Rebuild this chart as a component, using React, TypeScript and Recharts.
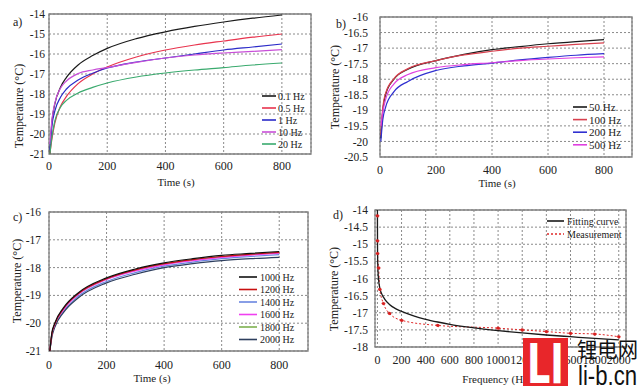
import React from 'react';
import { LineChart, Line, XAxis, YAxis, CartesianGrid, ReferenceArea } from 'recharts';

// ---------- Panel a ----------
const timeA = [3, 10, 20, 40, 60, 100, 150, 200, 300, 400, 500, 600, 700, 800];
const a_01Hz = [-21, -19.4, -18.5, -17.65, -17.17, -16.55, -16.08, -15.72, -15.23, -14.89, -14.62, -14.4, -14.21, -14.05];
const a_05Hz = [-21, -20.25, -19.45, -18.6, -18.12, -17.48, -17.0, -16.65, -16.15, -15.8, -15.55, -15.35, -15.16, -15.0];
const a_1Hz = [-20.8, -19.6, -18.85, -18.15, -17.75, -17.3, -16.96, -16.7, -16.4, -16.2, -16.0, -15.8, -15.65, -15.5];
const a_10Hz = [-20.5, -19.3, -18.45, -17.7, -17.35, -16.98, -16.8, -16.68, -16.42, -16.2, -16.05, -15.95, -15.87, -15.78];
const a_20Hz = [-21, -20.15, -19.35, -18.65, -18.32, -17.95, -17.67, -17.45, -17.15, -16.95, -16.8, -16.68, -16.55, -16.45];
const aTicksX = [0, 200, 400, 600, 800];
const aTicksY = [-21, -20, -19, -18, -17, -16, -15, -14];

// ---------- Panel b ----------
const timeB = [3, 10, 20, 50, 100, 200, 300, 400, 500, 600, 700, 800];
const b_50Hz = [-19.9, -19.0, -18.5, -18.0, -17.68, -17.4, -17.2, -17.05, -16.95, -16.86, -16.79, -16.73];
const b_100Hz = [-19.8, -18.9, -18.45, -17.98, -17.66, -17.4, -17.22, -17.1, -17.0, -16.94, -16.88, -16.83];
const b_200Hz = [-20.0, -19.3, -18.9, -18.4, -18.07, -17.72, -17.57, -17.48, -17.38, -17.3, -17.23, -17.18];
const b_500Hz = [-19.5, -19.05, -18.65, -18.15, -17.85, -17.63, -17.53, -17.47, -17.4, -17.35, -17.31, -17.28];
const bTicksX = [0, 200, 400, 600, 800];
const bTicksY = [-20.5, -20, -19.5, -19, -18.5, -18, -17.5, -17, -16.5, -16];

// ---------- Panel c ----------
const timeC = [3, 10, 20, 50, 100, 200, 300, 400, 500, 600, 700, 800];
const c_1000Hz = [-21, -20.35, -20.0, -19.45, -18.92, -18.37, -18.05, -17.83, -17.68, -17.56, -17.49, -17.42];
const c_1200Hz = [-21, -20.38, -20.03, -19.48, -18.95, -18.4, -18.08, -17.86, -17.71, -17.6, -17.52, -17.45];
const c_1400Hz = [-21, -20.45, -20.1, -19.58, -19.05, -18.5, -18.18, -17.95, -17.8, -17.68, -17.6, -17.53];
const c_1600Hz = [-21, -20.4, -20.05, -19.52, -18.98, -18.43, -18.12, -17.9, -17.75, -17.63, -17.55, -17.48];
const c_1800Hz = [-21, -20.39, -20.04, -19.5, -18.97, -18.42, -18.1, -17.88, -17.73, -17.61, -17.53, -17.46];
const c_2000Hz = [-21, -20.5, -20.15, -19.62, -19.1, -18.55, -18.24, -18.0, -17.86, -17.75, -17.68, -17.63];
const cTicksX = [0, 200, 400, 600, 800];
const cTicksY = [-21, -20, -19, -18, -17, -16];

// ---------- Panel d ----------
const fitFreq = [0.1, 1, 3, 5, 10, 20, 40, 60, 100, 150, 200, 300, 400, 500, 600, 800, 1000, 1200, 1400, 1600, 1800, 2000];
const fitTemp = [-14.0, -15.1, -15.6, -15.8, -16.05, -16.28, -16.48, -16.6, -16.76, -16.88, -16.96, -17.09, -17.19, -17.27, -17.34, -17.44, -17.52, -17.59, -17.65, -17.7, -17.75, -17.79];
const measFreq = [0.1, 0.5, 1, 10, 20, 50, 100, 200, 500, 1000, 1200, 1400, 1600, 1800, 2000];
const measTemp = [-14.17, -14.9, -15.27, -15.69, -16.32, -16.73, -17.02, -17.22, -17.37, -17.45, -17.5, -17.55, -17.6, -17.62, -17.7];
const dTicksX = [0, 200, 400, 600, 800, 1000, 1200, 1400, 1600, 1800, 2000];
const dTicksY = [-18, -17.5, -17, -16.5, -16, -15.5, -15, -14.5, -14];

const SERIF = "'Liberation Serif', 'Times New Roman', serif";
const TICK = { fontSize: 12, fill: '#222', fontFamily: SERIF };
const YTICK = { fontSize: 11.5, fill: '#222', fontFamily: SERIF };
const GRID = '#8a8a8a';
const FRAME = '#808080';

type Series = { key: string; name: string; color: string; values: number[] };

const seriesA: Series[] = [
  { key: 's01', name: '0.1 Hz', color: '#1a1a1a', values: a_01Hz },
  { key: 's05', name: '0.5 Hz', color: '#e8344e', values: a_05Hz },
  { key: 's1', name: '1 Hz', color: '#2b2bc8', values: a_1Hz },
  { key: 's10', name: '10 Hz', color: '#c84fd8', values: a_10Hz },
  { key: 's20', name: '20 Hz', color: '#3aaa6e', values: a_20Hz },
];
const seriesB: Series[] = [
  { key: 's50', name: '50 Hz', color: '#1a1a1a', values: b_50Hz },
  { key: 's100', name: '100 Hz', color: '#d8404e', values: b_100Hz },
  { key: 's200', name: '200 Hz', color: '#3030d0', values: b_200Hz },
  { key: 's500', name: '500 Hz', color: '#e040e0', values: b_500Hz },
];
const seriesC: Series[] = [
  { key: 's1400', name: '1400 Hz', color: '#6a86e0', values: c_1400Hz },
  { key: 's2000', name: '2000 Hz', color: '#2e3f5e', values: c_2000Hz },
  { key: 's1800', name: '1800 Hz', color: '#7db04e', values: c_1800Hz },
  { key: 's1600', name: '1600 Hz', color: '#f040f0', values: c_1600Hz },
  { key: 's1200', name: '1200 Hz', color: '#c81010', values: c_1200Hz },
  { key: 's1000', name: '1000 Hz', color: '#111111', values: c_1000Hz },
];
const legendOrderC = ['s1000', 's1200', 's1400', 's1600', 's1800', 's2000'];

function buildRows(xs: number[], series: Series[]) {
  return xs.map((x, i) => {
    const row: Record<string, number> = { x };
    series.forEach((s) => {
      row[s.key] = s.values[i];
    });
    return row;
  });
}

type PanelProps = {
  left: number;
  top: number;
  w: number;
  h: number;
  mTop: number;
  mRight: number;
  yW: number;
  xH: number;
  xDomain: [number, number];
  yDomain: [number, number];
  xTicks: number[];
  yTicks: number[];
  yTickMargin: number;
  xTickMargin: number;
  children?: React.ReactNode;
  data?: any[];
};

function Panel(p: PanelProps) {
  return (
    <div style={{ position: 'absolute', left: p.left, top: p.top, width: p.w, height: p.h }}>
      <LineChart width={p.w} height={p.h} data={p.data} margin={{ top: p.mTop, right: p.mRight, left: 0, bottom: 0 }}>
        <CartesianGrid stroke={GRID} strokeDasharray="2 2" strokeWidth={1} />
        <XAxis
          dataKey="x"
          type="number"
          domain={p.xDomain}
          ticks={p.xTicks}
          interval={0}
          allowDataOverflow
          height={p.xH}
          axisLine={false}
          tickLine={false}
          tickSize={0}
          tickMargin={p.xTickMargin}
          tick={TICK}
        />
        <YAxis
          type="number"
          domain={p.yDomain}
          ticks={p.yTicks}
          interval={0}
          allowDataOverflow
          width={p.yW}
          axisLine={false}
          tickLine={false}
          tickSize={0}
          tickMargin={p.yTickMargin}
          tick={YTICK}
        />
        {p.children}
        <ReferenceArea
          x1={p.xDomain[0]}
          x2={p.xDomain[1]}
          y1={p.yDomain[0]}
          y2={p.yDomain[1]}
          fill="none"
          fillOpacity={0}
          stroke={FRAME}
          strokeWidth={1.3}
          ifOverflow="visible"
        />
      </LineChart>
    </div>
  );
}

function seriesLines(series: Series[]) {
  return series.map((s) => (
    <Line
      key={s.key}
      dataKey={s.key}
      name={s.name}
      type="monotone"
      stroke={s.color}
      strokeWidth={1.2}
      dot={false}
      isAnimationActive={false}
    />
  ));
}

type LegendItem = { name: string; color: string; dash?: string };

function LegendSvg({ x1, x2, tx, y0, step, size, items }: { x1: number; x2: number; tx: number; y0: number; step: number; size: number; items: LegendItem[] }) {
  return (
    <g>
      {items.map((it, i) => (
        <g key={it.name}>
          <line x1={x1} x2={x2} y1={y0 + i * step} y2={y0 + i * step} stroke={it.color} strokeWidth={1.6} strokeDasharray={it.dash} />
          <text x={tx} y={y0 + i * step} dominantBaseline="central" fontSize={size} fontFamily={SERIF} fill="#222">
            {it.name}
          </text>
        </g>
      ))}
    </g>
  );
}

function VText({ cx, cy, size, children }: { cx: number; cy: number; size: number; children: React.ReactNode }) {
  return (
    <text x={cx} y={cy} transform={`rotate(-90 ${cx} ${cy})`} textAnchor="middle" dominantBaseline="central" fontSize={size} fontFamily={SERIF} fill="#222">
      {children}
    </text>
  );
}

function HText({ cx, cy, size, anchor = 'middle', children }: { cx: number; cy: number; size: number; anchor?: string; children: React.ReactNode }) {
  return (
    <text x={cx} y={cy} textAnchor={anchor as any} dominantBaseline="central" fontSize={size} fontFamily={SERIF} fill="#222">
      {children}
    </text>
  );
}

export default function App() {
  const rowsA = buildRows(timeA, seriesA);
  const rowsB = buildRows(timeB, seriesB);
  const rowsC = buildRows(timeC, seriesC);
  const fitRows = fitFreq.map((x, i) => ({ x, y: fitTemp[i] }));
  const measRows = measFreq.map((x, i) => ({ x, y: measTemp[i] }));

  return (
    <div style={{ position: 'absolute', left: 0, top: 0, width: 640, height: 386, background: '#fff', overflow: 'hidden', fontFamily: SERIF }}>
      <Panel left={0} top={0} w={320} h={193} mTop={14} mRight={9} yW={49} xH={39}
        xDomain={[0, 900]} yDomain={[-21, -14]} xTicks={aTicksX} yTicks={aTicksY} yTickMargin={4} xTickMargin={7} data={rowsA}>
        {seriesLines(seriesA)}
      </Panel>
      <Panel left={320} top={0} w={320} h={193} mTop={17} mRight={8} yW={60} xH={36}
        xDomain={[0, 900]} yDomain={[-20.5, -16]} xTicks={bTicksX} yTicks={bTicksY} yTickMargin={12} xTickMargin={8} data={rowsB}>
        {seriesLines(seriesB)}
      </Panel>
      <Panel left={0} top={193} w={320} h={193} mTop={19} mRight={12} yW={49} xH={35}
        xDomain={[0, 900]} yDomain={[-21, -16]} xTicks={cTicksX} yTicks={cTicksY} yTickMargin={8} xTickMargin={9} data={rowsC}>
        {seriesLines(seriesC)}
      </Panel>
      <Panel left={320} top={193} w={320} h={193} mTop={17} mRight={14} yW={55} xH={39}
        xDomain={[-20, 2060]} yDomain={[-18, -14]} xTicks={dTicksX} yTicks={dTicksY} yTickMargin={7} xTickMargin={8}>
        <Line data={measRows} dataKey="y" name="Measurement" type="monotone" stroke="#e02828" strokeWidth={1} strokeDasharray="2 2"
          dot={{ r: 1.6, fill: '#d82020', stroke: '#d82020', strokeWidth: 0.5 }} isAnimationActive={false} />
        <Line data={fitRows} dataKey="y" name="Fitting curve" type="monotone" stroke="#1a1a1a" strokeWidth={1.3} dot={false} isAnimationActive={false} />
      </Panel>

      <svg width={640} height={386} style={{ position: 'absolute', left: 0, top: 0, pointerEvents: 'none' }}>
        {/* panel labels */}
        <HText cx={13} cy={22} size={12} anchor="start">a)</HText>
        <HText cx={336} cy={24} size={12} anchor="start">b)</HText>
        <HText cx={13} cy={217} size={12} anchor="start">c)</HText>
        <HText cx={333} cy={215} size={12} anchor="start">d)</HText>

        {/* axis titles */}
        <VText cx={19} cy={106} size={12}>Temperature (°C)</VText>
        <VText cx={335} cy={87} size={12}>Temperature (°C)</VText>
        <VText cx={17} cy={281} size={12}>Temperature (°C)</VText>
        <VText cx={334} cy={289} size={12}>Temperature (°C)</VText>
        <HText cx={176} cy={182} size={11}>Time (s)</HText>
        <HText cx={497} cy={183} size={11}>Time (s)</HText>
        <HText cx={152} cy={378} size={11}>Time (s)</HText>
        <HText cx={497} cy={379} size={11}>Frequency (Hz)</HText>

        {/* legends */}
        <LegendSvg x1={262} x2={276} tx={278} y0={96} step={12} size={10} items={seriesA.map((s) => ({ name: s.name, color: s.color }))} />
        <LegendSvg x1={573} x2={587} tx={589} y0={107} step={12.6} size={11} items={seriesB.map((s) => ({ name: s.name, color: s.color }))} />
        <LegendSvg x1={239} x2={257} tx={260} y0={277} step={12.5} size={10}
          items={legendOrderC.map((k) => seriesC.find((s) => s.key === k)!).map((s) => ({ name: s.name, color: s.color }))} />
        <LegendSvg x1={547} x2={564} tx={567} y0={221} step={13} size={10}
          items={[{ name: 'Fitting curve', color: '#1a1a1a' }, { name: 'Measurement', color: '#e02828', dash: '2 2' }]} />

        {/* watermark */}
        <rect x={523} y={338} width={45} height={48} fill="#e8262a" />
        <text x={527} y={383} fontFamily="'DejaVu Sans', sans-serif" fontWeight="bold" fontSize={56} fill="#fff" textLength={37} lengthAdjust="spacingAndGlyphs">LI</text>
        <text x={577} y={357} fontFamily="'Noto Sans CJK SC', sans-serif" fontSize={21} fill="#111" textLength={61} lengthAdjust="spacingAndGlyphs">锂电网</text>
        <text x={578} y={385} fontFamily="'Liberation Sans', sans-serif" fontSize={27} fill="#111" textLength={59} lengthAdjust="spacingAndGlyphs">li-b.cn</text>
      </svg>
    </div>
  );
}
